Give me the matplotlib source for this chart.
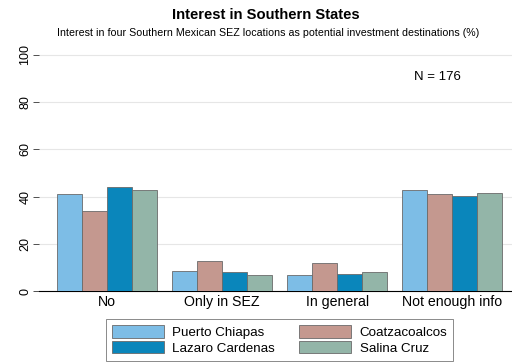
#Grouped bar chart - interest in southern SEZ locations
import numpy as np
import matplotlib.pyplot as plt

plt.rcParams['font.family'] = ['Liberation Sans', 'DejaVu Sans']

#Data
categories = ['No', 'Only in SEZ', 'In general', 'Not enough info']
series_names = ['Puerto Chiapas', 'Coatzacoalcos', 'Lazaro Cardenas', 'Salina Cruz']
puerto_chiapas = [41.2, 8.5, 6.8, 42.9]
coatzacoalcos = [34.0, 12.6, 11.8, 41.3]
lazaro_cardenas = [44.2, 8.0, 7.3, 40.2]
salina_cruz = [42.9, 6.8, 8.1, 41.7]
y_ticks = [0, 20, 40, 60, 80, 100]

colors = ['#7dbde6', '#c4988f', '#0a86bb', '#93b5a8']
series = [puerto_chiapas, coatzacoalcos, lazaro_cardenas, salina_cruz]

fig = plt.figure(figsize=(5.12, 3.62), dpi=100)
ax = fig.add_axes([39 / 512, 1 - 291.3 / 362, 1 - 39 / 512, (291.3 - 53.5) / 362])

x = np.arange(len(categories))
width = 0.2165
bars = []
for i, (vals, col, name) in enumerate(zip(series, colors, series_names)):
    b = ax.bar(x + (i - 1.5) * width, vals, width, color=col, edgecolor='#6a6a6a',
               linewidth=0.6, label=name, zorder=3)
    bars.append(b)

ax.set_xlim(-0.59, 3.52)
ax.set_ylim(0, 100.5)
ax.set_yticks(y_ticks)
ax.set_yticklabels([str(t) for t in y_ticks], rotation=90, va='center', fontsize=9)
ax.set_xticks(x)
ax.set_xticklabels(categories, fontsize=10.2)
ax.tick_params(axis='x', length=0, pad=3)
ax.tick_params(axis='y', length=4.5, width=0.6, color='#333333', pad=1)
ax.grid(axis='y', color='#e6e6e6', linewidth=0.8, zorder=0)
for s in ['top', 'right', 'left']:
    ax.spines[s].set_visible(False)
ax.spines['bottom'].set_linewidth(0.8)

ax.text(2.67, 90.4, 'N = 176', fontsize=9.5, va='center')

fig.text(0.52, 0.958, 'Interest in Southern States', ha='center', va='center',
         fontsize=10.6, fontweight='bold')
fig.text(0.523, 0.91, 'Interest in four Southern Mexican SEZ locations as potential investment destinations (%)',
         ha='center', va='center', fontsize=7.7)

#Row-wise legend order: Puerto Chiapas, Coatzacoalcos / Lazaro Cardenas, Salina Cruz
order = [0, 2, 1, 3]
leg = fig.legend([bars[k] for k in order], [series_names[k] for k in order], ncol=2,
                 loc='center', bbox_to_anchor=(0.546, 0.061),
                 fontsize=9.6, frameon=True, fancybox=False, edgecolor='#555555',
                 handlelength=3.9, handleheight=1.05, columnspacing=1.8,
                 labelspacing=0.15, borderpad=0.45, handletextpad=0.65)
leg.get_frame().set_linewidth(0.6)

fig.savefig('out.png', dpi=100)
